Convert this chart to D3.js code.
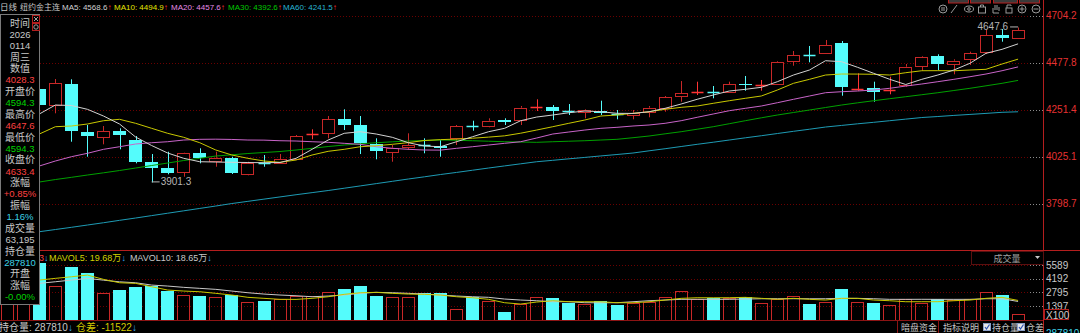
<!DOCTYPE html>
<html>
<head>
<meta charset="utf-8">
<script src="https://cdn.jsdelivr.net/npm/d3@7"></script>
<style>
  html, body { margin: 0; padding: 0; background: #000; overflow: hidden; }
  svg { display: block; }
  text { font-family: "Liberation Sans", Arial, "Noto Sans CJK SC", sans-serif; }
  .cn { font-family: "Noto Sans CJK SC", "Liberation Sans", sans-serif; }
</style>
</head>
<body>
<svg id="svg" width="1080" height="333"></svg>
<script>
// 纽约金主连 日线, 前两根K线被左侧信息框挡住

var opens = [4240.0, 4290.0,
    4349.7, 4274.0, 4373.8, 4142.5, 4121.3, 4150.3, 4105.4, 4000.9, 3972.0, 3947.9,
    4041.4, 4005.7, 4017.3, 3945.0, 3997.0, 3993.2, 4012.5, 4131.9, 4137.7, 4205.2,
    4177.7, 4084.7, 4049.1, 4070.3, 4081.4, 4078.0, 4113.6, 4172.9, 4172.9, 4203.2,
    4205.2, 4265.4, 4265.8, 4246.1, 4241.8, 4245.1, 4229.7, 4225.9, 4241.8, 4258.1,
    4314.0, 4335.7, 4337.1, 4336.6, 4373.8, 4369.4, 4375.2, 4486.0, 4515.8, 4526.0,
    4571.3, 4351.6, 4354.5, 4345.3, 4370.4, 4461.9, 4510.1, 4471.5, 4494.2, 4530.8,
    4611.2, 4594.3]
var closes = [4300.0, 4340.0,
    4274.0, 4379.6, 4145.4, 4121.3, 4148.8, 4129.5, 4000.9, 3973.9, 3947.9, 4041.4,
    4017.3, 4020.2, 3945.0, 3996.1, 3994.7, 4012.5, 4124.7, 4133.4, 4205.2, 4177.7,
    4089.5, 4052.4, 4068.4, 4081.4, 4080.0, 4070.3, 4172.9, 4171.4, 4198.4, 4195.5,
    4261.0, 4266.8, 4245.1, 4244.6, 4250.0, 4236.9, 4228.3, 4236.9, 4261.0, 4311.1,
    4330.4, 4337.1, 4335.7, 4373.8, 4367.0, 4370.9, 4482.6, 4514.9, 4513.9, 4563.1,
    4357.4, 4353.0, 4335.2, 4346.8, 4458.5, 4506.7, 4471.5, 4487.5, 4523.1, 4611.2,
    4598.2, 4633.4]
var highs = [4310.0, 4355.0,
    4365.0, 4399.3, 4397.8, 4177.7, 4172.9, 4161.8, 4124.7, 4038.0, 4049.1, 4044.3,
    4065.5, 4049.1, 4025.0, 4000.9, 4033.2, 4038.0, 4129.5, 4157.0, 4221.0, 4253.3,
    4221.0, 4113.6, 4081.4, 4137.7, 4113.6, 4105.4, 4177.7, 4198.4, 4210.0, 4210.0,
    4269.2, 4301.5, 4274.0, 4278.8, 4253.3, 4294.8, 4250.0, 4250.0, 4269.2, 4317.4,
    4389.6, 4386.3, 4365.6, 4386.3, 4413.7, 4394.5, 4486.0, 4534.2, 4558.3, 4587.2,
    4582.3, 4426.7, 4386.3, 4410.4, 4471.5, 4510.1, 4518.3, 4494.2, 4530.8, 4635.3,
    4640.0, 4647.6]
var lows = [4230.0, 4280.0,
    4262.0, 4234.1, 4097.3, 4025.0, 4084.7, 4060.7, 3993.2, 3901.3, 3940.2, 3928.6,
    3993.2, 3976.8, 3941.7, 3935.4, 3976.8, 3989.8, 4009.1, 4108.8, 4113.6, 4153.6,
    4038.0, 4012.5, 4000.9, 4057.3, 4041.4, 4025.0, 4081.4, 4150.3, 4166.6, 4177.7,
    4177.7, 4245.1, 4201.8, 4225.9, 4210.0, 4225.9, 4205.2, 4205.2, 4214.8, 4241.8,
    4289.9, 4322.2, 4306.3, 4333.3, 4342.9, 4342.9, 4370.4, 4463.3, 4479.7, 4519.7,
    4318.8, 4342.9, 4289.9, 4325.6, 4362.2, 4439.3, 4442.6, 4421.9, 4466.7, 4519.7,
    4579.0, 4594.3]

var ma5 = [null, null,
    4230.7, 4274.0, 4271.6, 4253.3, 4221.0, 4182.5, 4119.9, 4078.9, 4042.8, 4017.3,
    4000.9, 3999.4, 3998.0, 3997.0, 3996.1, 3997.0, 4017.3, 4060.6, 4105.4, 4137.7,
    4145.4, 4134.3, 4118.4, 4092.4, 4076.5, 4073.1, 4097.2, 4121.3, 4145.4, 4161.8,
    4198.4, 4216.2, 4225.8, 4236.9, 4245.1, 4241.7, 4234.0, 4233.5, 4241.7, 4258.1,
    4278.8, 4301.5, 4322.2, 4341.5, 4349.6, 4359.3, 4386.3, 4418.5, 4442.6, 4487.4,
    4482.6, 4455.6, 4426.7, 4397.8, 4372.8, 4397.8, 4418.5, 4442.6, 4474.9, 4523.0,
    4542.3, 4568.6]
var ma10 = [null, null,
    4134.3, 4169.5, 4172.9, 4182.5, 4198.4, 4205.1, 4185.9, 4161.8, 4137.7, 4118.4,
    4092.4, 4057.2, 4033.2, 4017.3, 4004.3, 3998.0, 4009.1, 4033.2, 4051.0, 4060.6,
    4073.1, 4078.0, 4084.7, 4092.9, 4103.0, 4107.3, 4109.8, 4114.1, 4119.4, 4125.6,
    4138.2, 4153.6, 4169.5, 4185.9, 4201.8, 4221.0, 4225.8, 4234.0, 4241.7, 4253.3,
    4262.9, 4269.2, 4282.2, 4294.7, 4306.3, 4317.4, 4346.3, 4378.5, 4397.8, 4418.5,
    4423.3, 4423.0, 4421.9, 4418.5, 4429.6, 4439.2, 4439.5, 4439.0, 4442.6, 4446.0,
    4471.5, 4494.9]
var ma20 = [null, null,
    3980.2, 4004.3, 4025.0, 4041.4, 4060.6, 4073.1, 4086.2, 4092.4, 4097.2, 4105.4,
    4108.8, 4109.5, 4108.2, 4105.4, 4104.9, 4102.0, 4100.6, 4097.2, 4094.3, 4089.5,
    4084.7, 4073.1, 4065.4, 4060.6, 4057.2, 4056.8, 4065.4, 4073.1, 4081.3, 4089.5,
    4097.2, 4115.1, 4134.3, 4144.0, 4153.6, 4161.8, 4166.6, 4172.9, 4177.7, 4185.9,
    4198.4, 4214.8, 4230.7, 4246.6, 4258.1, 4269.2, 4285.1, 4301.5, 4317.4, 4333.3,
    4338.1, 4341.5, 4346.3, 4354.5, 4365.5, 4375.2, 4386.3, 4397.8, 4410.3, 4423.3,
    4439.2, 4457.6]
var ma30 = [null, null,
    3903.1, 3915.1, 3925.7, 3936.8, 3947.4, 3958.5, 3970.5, 3982.6, 3994.6, 4006.7,
    4017.3, 4028.3, 4034.1, 4040.4, 4045.2, 4050.0, 4057.2, 4065.4, 4074.1, 4081.3,
    4087.1, 4092.4, 4096.7, 4100.6, 4103.0, 4105.4, 4104.0, 4102.0, 4099.6, 4097.2,
    4095.8, 4094.3, 4097.2, 4099.6, 4102.0, 4105.4, 4108.8, 4116.5, 4124.7, 4135.3,
    4145.4, 4157.4, 4169.5, 4183.9, 4198.4, 4212.4, 4225.8, 4237.9, 4249.9, 4262.0,
    4274.0, 4284.6, 4294.7, 4304.4, 4314.0, 4323.6, 4333.3, 4343.9, 4354.5, 4366.5,
    4378.5, 4392.6]
var ma60 = [null, null,
    3663.7, 3674.3, 3684.9, 3696.0, 3707.0, 3718.6, 3729.7, 3741.3, 3752.8, 3764.4,
    3775.9, 3787.5, 3799.5, 3810.1, 3820.7, 3831.3, 3841.9, 3852.0, 3862.2, 3873.2,
    3884.3, 3895.4, 3906.5, 3917.6, 3928.2, 3939.2, 3949.3, 3959.9, 3970.5, 3980.7,
    3990.8, 4000.9, 4007.6, 4014.9, 4021.6, 4028.8, 4035.6, 4042.8, 4053.4, 4063.5,
    4074.1, 4084.7, 4094.8, 4105.4, 4116.0, 4126.1, 4136.7, 4147.3, 4157.4, 4168.0,
    4175.7, 4183.5, 4190.7, 4198.4, 4206.1, 4213.8, 4218.6, 4223.9, 4228.7, 4233.6,
    4238.9, 4241.5]

// 成交量 (X100)
var vols = [3000, 2900,
    5753, 3437, 5406, 4733, 2754, 3029, 3366, 3440, 2927, 2519,
    2417, 2346, 2525, 1775, 1938, 2081, 2417, 2448, 2856, 3101,
    3430, 2450, 2350, 2340, 2693, 2690, 1061, 2346, 1938, 785,
    1601, 2285, 2183, 1734, 1600, 1940, 1499, 1730, 1836, 2280,
    2930, 2081, 2180, 2185, 2290, 1673, 2085, 2448, 1605, 1836,
    3131, 1840, 1670, 1469, 2078, 1734, 2083, 2009, 2080, 2856,
    2519, 632]
var mavol5 = [null, null,
    4049, 4223, 4386, 4559, 4121, 3774, 3713, 3366, 3029, 2927,
    2856, 2693, 2519, 2285, 2183, 2081, 2075, 2183, 2346, 2591,
    2754, 2795, 2693, 2621, 2591, 2519, 2346, 2244, 2081, 1734,
    1601, 1805, 1938, 1836, 1836, 1830, 1734, 1730, 1836, 2009,
    2183, 2244, 2240, 2246, 2285, 2183, 2081, 2183, 2081, 2009,
    2183, 2180, 2009, 1938, 1836, 1836, 1840, 1938, 2009, 2183,
    2285, 1968]
var mavol10 = [null, null,
    3713, 3876, 4049, 4223, 4040, 3870, 3774, 3539, 3437, 3305,
    3203, 3101, 2927, 2754, 2621, 2519, 2448, 2346, 2417, 2519,
    2693, 2795, 2754, 2693, 2621, 2519, 2417, 2346, 2285, 2111,
    2009, 1938, 1836, 1840, 1734, 1730, 1736, 1836, 1938, 2009,
    2081, 2085, 2080, 2083, 2111, 2142, 2142, 2145, 2140, 2142,
    2183, 2180, 2142, 2081, 2080, 2085, 2081, 2078, 2081, 2142,
    2140, 1865]

var priceTicks = [4704.2, 4477.8, 4251.4, 4025.1, 3798.7]
var volTicks = [5589, 4192, 2795, 1397]

var maNames = ['MA5', 'MA10', 'MA20', 'MA30', 'MA60']
var maLast = ['4568.6', '4494.9', '4457.6', '4392.6', '4241.5']

var infoRows = ['时间', '2026', '0114', '周三', '数值', '4028.3', '开盘价', '4594.3',
    '最高价', '4647.6', '最低价', '4594.3', '收盘价', '4633.4', '涨幅', '+0.85%',
    '振幅', '1.16%', '成交量', '63,195', '持仓量', '287810', '开盘', '涨幅', '-0.00%']

var RED = '#c82828', DOJI_RED = '#ff3434', CYAN = '#54fcfc', GRID = '#6a0000'
var maColors = ['#d2d2d2', '#c8c800', '#c864c8', '#00a000', '#1e9bb4']
var maTextColors = ['#d2d2d2', '#e6e600', '#e68ce6', '#00c800', '#28b4d2']
var infoColors = ['#c8c8c8', '#c8c8c8', '#c8c8c8', '#c8c8c8', '#c8c8c8', '#ff4040',
    '#c8c8c8', '#00d200', '#c8c8c8', '#ff4040', '#c8c8c8', '#00d200', '#c8c8c8',
    '#ff4040', '#c8c8c8', '#ff4040', '#c8c8c8', '#3cd2e6', '#c8c8c8', '#c8c8c8',
    '#c8c8c8', '#3cd2e6', '#c8c8c8', '#c8c8c8', '#00d200']

var svg = d3.select('#svg')
var n = closes.length
var axisX = 1043.5

var x = d3.scaleBand().domain(d3.range(n)).range([-0.8, 1026.1])
    .paddingInner(0.2).paddingOuter(0.1)
var cx = function(i) { return x(i) + x.bandwidth() / 2 }
var y = d3.scaleLinear().domain([3798.7, 4704.2]).range([203.7, 15.7])
var yv = d3.scaleLinear().domain([0, 5589]).range([319.7, 265])

svg.append('rect').attr('width', 1080).attr('height', 333).attr('fill', '#000')

var defs = svg.append('defs')
defs.append('clipPath').attr('id', 'clipMain')
    .append('rect').attr('x', 0).attr('y', 11).attr('width', 1043).attr('height', 239.5)
defs.append('clipPath').attr('id', 'clipVol')
    .append('rect').attr('x', 0).attr('y', 251).attr('width', 1043).attr('height', 69)

// 网格
svg.selectAll('.pgrid').data(priceTicks).enter().append('line')
    .attr('x1', 40).attr('x2', 1030)
    .attr('y1', function(d) { return Math.round(y(d)) + 0.5 })
    .attr('y2', function(d) { return Math.round(y(d)) + 0.5 })
    .attr('stroke', GRID).attr('stroke-dasharray', '1,2')
svg.selectAll('.vgrid').data(volTicks).enter().append('line')
    .attr('x1', 40).attr('x2', 1030)
    .attr('y1', function(d) { return Math.round(yv(d)) + 0.5 })
    .attr('y2', function(d) { return Math.round(yv(d)) + 0.5 })
    .attr('stroke', GRID).attr('stroke-dasharray', '1,2')
// 靠近坐标轴的灰色短虚线
svg.selectAll('.ptick').data(priceTicks.map(y).concat(volTicks.map(yv))).enter().append('line')
    .attr('x1', 1030).attr('x2', 1043)
    .attr('y1', function(d) { return Math.round(d) + 0.5 })
    .attr('y2', function(d) { return Math.round(d) + 0.5 })
    .attr('stroke', '#8c8c8c').attr('stroke-dasharray', '1,2')

// K线
var main = svg.append('g').attr('clip-path', 'url(#clipMain)')

var line = d3.line()
    .defined(function(d) { return d != null })
    .x(function(d, i) { return cx(i) })
    .y(function(d) { return y(d) })

var bw = Math.round(x.bandwidth()) - 1

for (var i = 0; i < n; i++) {
    var up = closes[i] >= opens[i]
    var yTop = y(Math.max(opens[i], closes[i])), yBot = y(Math.min(opens[i], closes[i]))
    var bx = Math.round(x(i)) + 0.5
    var wx = Math.round(cx(i)) + 0.5
    var hi = y(highs[i]), lo = y(lows[i])

    if (yBot - yTop < 1.2) {
        var c = up ? DOJI_RED : CYAN
        var my = Math.round((yTop + yBot) / 2) + 0.5
        main.append('line').attr('x1', wx).attr('x2', wx).attr('y1', hi).attr('y2', lo).attr('stroke', c)
        main.append('line').attr('x1', bx).attr('x2', bx + bw).attr('y1', my).attr('y2', my)
            .attr('stroke', c).attr('stroke-width', 1.5)
    } else if (up) {
        main.append('line').attr('x1', wx).attr('x2', wx).attr('y1', hi).attr('y2', yTop).attr('stroke', RED)
        main.append('line').attr('x1', wx).attr('x2', wx).attr('y1', yBot).attr('y2', lo).attr('stroke', RED)
        main.append('rect').attr('x', bx).attr('y', Math.round(yTop) + 0.5).attr('width', bw)
            .attr('height', Math.max(1, Math.round(yBot - yTop)))
            .attr('fill', '#000').attr('stroke', RED)
    } else {
        main.append('line').attr('x1', wx).attr('x2', wx).attr('y1', hi).attr('y2', lo).attr('stroke', CYAN)
        main.append('rect').attr('x', bx - 0.5).attr('y', Math.round(yTop)).attr('width', bw + 1)
            .attr('height', Math.max(1, Math.round(yBot - yTop)))
            .attr('fill', CYAN)
    }
}

;[ma60, ma30, ma20, ma10, ma5].forEach(function(ma, k) {
    main.append('path').datum(ma).attr('d', line)
        .attr('fill', 'none').attr('stroke', maColors[4 - k]).attr('stroke-width', 1)
})

// 最低/最高标注
var iLow = d3.minIndex(lows), iHigh = d3.maxIndex(highs)
main.append('line').attr('x1', cx(iLow)).attr('x2', cx(iLow) + 8)
    .attr('y1', y(lows[iLow]) - 0.5).attr('y2', y(lows[iLow]) - 0.5).attr('stroke', '#b4b4b4')
main.append('text').attr('x', cx(iLow) + 9).attr('y', y(lows[iLow]) + 3)
    .attr('fill', '#b4b4b4').style('font-size', '10px').text('3901.3')
main.append('line').attr('x1', cx(iHigh) - 8).attr('x2', cx(iHigh))
    .attr('y1', y(highs[iHigh]) - 0.5).attr('y2', y(highs[iHigh]) - 0.5).attr('stroke', '#b4b4b4')
main.append('text').attr('x', cx(iHigh) - 10).attr('y', y(highs[iHigh]) + 3)
    .attr('text-anchor', 'end').attr('fill', '#b4b4b4').style('font-size', '10px').text('4647.6')

// 成交量
var vol = svg.append('g').attr('clip-path', 'url(#clipVol)')
for (var j = 0; j < n; j++) {
    var vup = closes[j] >= opens[j]
    var vt = Math.round(yv(vols[j]))
    var vb = Math.round(yv(0))
    var vx = Math.round(x(j))
    if (vup) {
        vol.append('rect').attr('x', vx + 0.5).attr('y', vt + 0.5).attr('width', bw)
            .attr('height', vb - vt).attr('fill', 'none').attr('stroke', RED)
    } else {
        vol.append('rect').attr('x', vx).attr('y', vt).attr('width', bw + 1)
            .attr('height', vb - vt + 1).attr('fill', CYAN)
    }
}
var vline = d3.line()
    .defined(function(d) { return d != null })
    .x(function(d, i) { return cx(i) })
    .y(function(d) { return yv(d) })
vol.append('path').datum(mavol10).attr('d', vline).attr('fill', 'none').attr('stroke', '#c8c8c8')
vol.append('path').datum(mavol5).attr('d', vline).attr('fill', 'none').attr('stroke', '#c8c800')

// 框线
svg.append('line').attr('x1', 0).attr('x2', 1080).attr('y1', 250.5).attr('y2', 250.5).attr('stroke', '#b41e1e')
svg.append('line').attr('x1', 0).attr('x2', 1043).attr('y1', 320.5).attr('y2', 320.5).attr('stroke', '#8c1414')
svg.append('line').attr('x1', axisX).attr('x2', axisX).attr('y1', 0).attr('y2', 333).attr('stroke', '#b41e1e')

// 右侧坐标
svg.selectAll('.plabel').data(priceTicks).enter().append('text')
    .attr('x', 1046).attr('y', function(d) { return y(d) })
    .attr('dy', '0.35em').attr('fill', '#e63232').style('font-size', '10px')
    .text(function(d) { return d.toFixed(1) })
svg.selectAll('.vlabel').data(volTicks).enter().append('text')
    .attr('x', 1046).attr('y', function(d) { return yv(d) })
    .attr('dy', '0.35em').attr('fill', '#c8c8c8').style('font-size', '10px')
    .text(function(d) { return d })
svg.append('rect').attr('x', 1044.5).attr('y', 309.5).attr('width', 24).attr('height', 10)
    .attr('fill', 'none').attr('stroke', '#b41e1e')
svg.append('text').attr('x', 1046).attr('y', 318.5).attr('fill', '#c8c8c8')
    .style('font-size', '10px').text('X100')

// 顶部标题
svg.append('text').attr('class', 'cn').attr('x', 0).attr('y', 10).attr('fill', '#c8c8c8')
    .style('font-size', '8.5px').text('日线')
svg.append('text').attr('class', 'cn').attr('x', 20).attr('y', 10).attr('fill', '#c8c8c8')
    .style('font-size', '8px').text('纽约金主连')
var maX = [62, 114, 171, 228, 283]
maNames.forEach(function(name, k) {
    var t = svg.append('text').attr('x', maX[k]).attr('y', 10).style('font-size', '8px')
    t.append('tspan').attr('fill', maTextColors[k]).text(name + ': ' + maLast[k])
    t.append('tspan').attr('fill', '#ff3232').text('↑')
})

// 右上角小工具
var tabs = [948, 970, 993, 1019]
tabs.forEach(function(tx, k) {
    svg.append('rect').attr('x', tx + 0.5).attr('y', -1).attr('width', k == 2 ? 24 : 20).attr('height', 4)
        .attr('fill', '#3a3a3a').attr('stroke', '#b41e1e')
})
var icons = [943, 954, 969, 982, 996, 1009, 1022, 1036]
icons.forEach(function(ix, k) {
    var g = svg.append('g').attr('transform', 'translate(' + ix + ',9)')
        .attr('stroke', '#9a9a9a').attr('fill', 'none')
    if (k == 0 || k == 6 || k == 7) g.append('circle').attr('r', 4)
    if (k == 0) g.append('path').attr('d', 'M-2,-1H2M-2,1H2')
    if (k == 1) g.append('path').attr('d', 'M-3,4L3,-4')
    if (k == 2) g.append('ellipse').attr('rx', 4.5).attr('ry', 3)
    if (k == 2) g.append('circle').attr('r', 1.3)
    if (k == 3) g.append('rect').attr('x', -3.5).attr('y', -2).attr('width', 7).attr('height', 6)
    if (k == 3) g.append('path').attr('d', 'M-1.5,-2V-4H1.5V-2')
    if (k == 4) g.append('path').attr('d', 'M-3,4V-1M-1,1V-4M1,1V-4M3,2V-2M-3,4H3')
    if (k == 5) g.append('rect').attr('x', -3).attr('y', -1).attr('width', 6).attr('height', 5)
    if (k == 5) g.append('path').attr('d', 'M-2,-1V-4H2V-3')
    if (k == 6) g.append('path').attr('d', 'M-2.5,0H2.5M0,-2.5V2.5')
    if (k == 7) g.append('path').attr('d', 'M-2.5,0H2.5')
})

// 成交量标题 (左边被信息框挡住, 只露出末尾)
var vt0 = svg.append('text').attr('x', 39).attr('y', 261).style('font-size', '9px')
vt0.append('tspan').attr('fill', '#ff4040').text('3')
vt0.append('tspan').attr('fill', '#3cb4ff').text('↓')
var vt1 = svg.append('text').attr('x', 49).attr('y', 261).style('font-size', '9px')
vt1.append('tspan').attr('fill', '#d2d200').text('MAVOL5: 19.68万')
vt1.append('tspan').attr('fill', '#3cb4ff').text('↓')
vt1.append('tspan').attr('fill', '#c8c8c8').attr('dx', 4).text('MAVOL10: 18.65万')
vt1.append('tspan').attr('fill', '#3cb4ff').text('↓')

svg.append('rect').attr('x', 971.5).attr('y', 251.5).attr('width', 72).attr('height', 13)
    .attr('fill', '#000').attr('stroke', '#5a1010')
svg.append('text').attr('class', 'cn').attr('x', 1007).attr('y', 261.5).attr('text-anchor', 'middle')
    .attr('fill', '#a0a0a0').style('font-size', '9px').text('成交量')
svg.append('path').attr('d', 'M1035,256H1040L1037.5,259Z').attr('fill', '#c8c8c8')

// 底部
var foot = svg.append('text').attr('x', -1).attr('y', 331).style('font-size', '10px')
foot.append('tspan').attr('fill', '#c8c8c8').text('持仓量: 287810')
foot.append('tspan').attr('fill', '#3cb4ff').text('↓')
foot.append('tspan').attr('fill', '#d2c800').attr('dx', 3).text('仓差: -11522')
foot.append('tspan').attr('fill', '#3cb4ff').text('↓')

svg.append('rect').attr('x', 897.5).attr('y', 320.5).attr('width', 41).attr('height', 14)
    .attr('fill', 'none').attr('stroke', '#8c1414')
svg.append('text').attr('class', 'cn').attr('x', 901).attr('y', 331).attr('fill', '#c8c8c8')
    .style('font-size', '9px').text('暗盘资金')
svg.append('text').attr('class', 'cn').attr('x', 943).attr('y', 331).attr('fill', '#c8c8c8')
    .style('font-size', '9px').text('指标说明')
;[983, 1017].forEach(function(bxp, k) {
    svg.append('rect').attr('x', bxp + 0.5).attr('y', 323.5).attr('width', 7).attr('height', 7)
        .attr('fill', '#e6e6e6').attr('stroke', '#8ca0c8')
    svg.append('path').attr('d', 'M' + (bxp + 2) + ',327L' + (bxp + 3.5) + ',329L' + (bxp + 6.5) + ',324.5')
        .attr('fill', 'none').attr('stroke', '#2850b4').attr('stroke-width', 1.2)
    svg.append('text').attr('class', 'cn').attr('x', bxp + 9).attr('y', 331).attr('fill', '#c8c8c8')
        .style('font-size', '9px').text(k == 0 ? '持仓量' : '仓差')
})
svg.append('text').attr('x', 1046).attr('y', 337).attr('fill', '#3cd2e6')
    .style('font-size', '10px').text('287810')

// 左侧信息框
var panel = svg.append('g')
panel.append('rect').attr('x', 0.5).attr('y', 14.5).attr('width', 39).attr('height', 290)
    .attr('fill', '#000').attr('stroke', '#7a7a7a')
panel.selectAll('text').data(infoRows).enter().append('text')
    .attr('class', function(d) { return /[\u4e00-\u9fa5]/.test(d) ? 'cn' : null })
    .attr('x', 20).attr('y', function(d, k) { return 23 + k * 11.4 })
    .attr('dy', '0.35em').attr('text-anchor', 'middle')
    .attr('fill', function(d, k) { return infoColors[k] })
    .style('font-size', function(d) { return /[\u4e00-\u9fa5]/.test(d) ? '10px' : '9.5px' })
    .text(function(d) { return d })
panel.append('rect').attr('x', 32.5).attr('y', 15.5).attr('width', 7).attr('height', 7)
    .attr('fill', '#000').attr('stroke', '#b41e1e')
panel.append('path').attr('d', 'M34,17L38,21M38,17L34,21').attr('stroke', '#a0a0a0')
panel.append('rect').attr('x', 32.5).attr('y', 23.5).attr('width', 7).attr('height', 7)
    .attr('fill', '#000').attr('stroke', '#b41e1e')
panel.append('circle').attr('cx', 36).attr('cy', 27).attr('r', 2.2).attr('fill', 'none').attr('stroke', '#a0a0a0')
</script>
</body>
</html>
